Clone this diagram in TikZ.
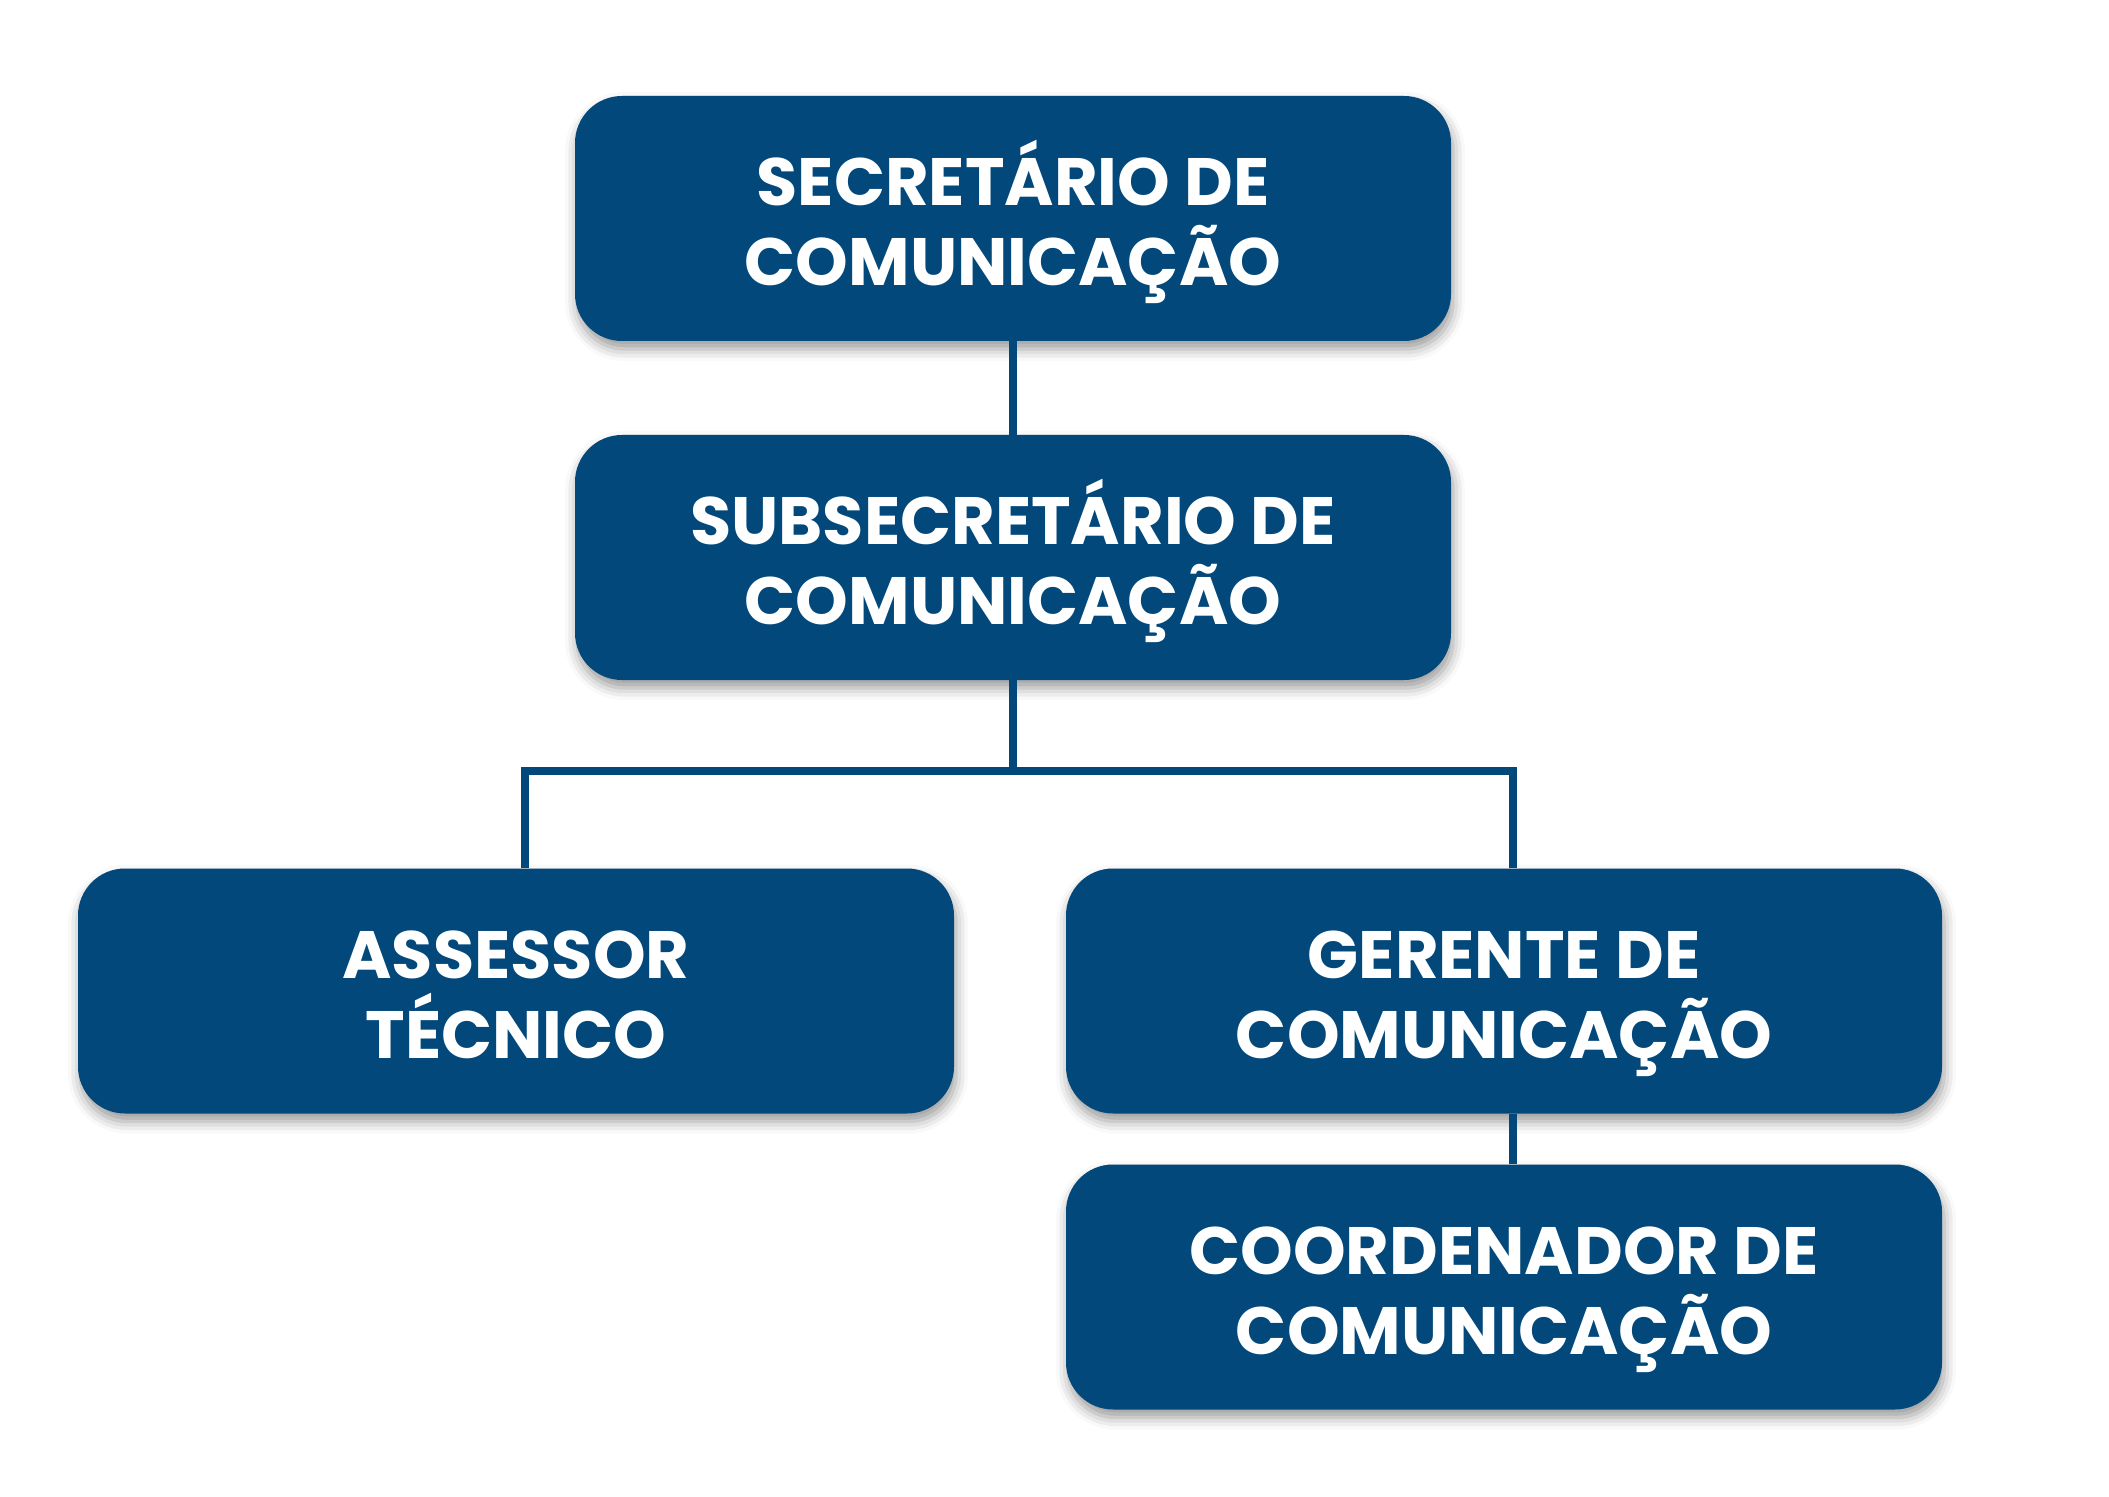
\documentclass[tikz,border=0pt]{standalone}
\usepackage{fontspec}
\setmainfont{Poppins}
\usetikzlibrary{shadows.blur}
\definecolor{boxblue}{RGB}{3,72,122}
\begin{document}
\begin{tikzpicture}[x=0.5pt,y=-0.5pt,
  orgbox/.style={rectangle, rounded corners=23.5pt, fill=boxblue, draw=none,
    minimum width=438pt, minimum height=122.5pt, inner sep=0pt,
    text=white, align=center, font=\bfseries\fontsize{33.5}{40}\selectfont,
    text height=67pt, text depth=0pt,
    blur shadow={shadow xshift=1pt, shadow yshift=-4pt, shadow blur radius=6pt, shadow opacity=40}},
  link/.style={draw=boxblue, line width=4pt}]
\useasboundingbox (0,0) rectangle (2109,1497);
\node[orgbox] (b1) at (1013,218.5) {SECRETÁRIO DE\\COMUNICAÇÃO};
\node[orgbox] (b2) at (1013,557.5) {SUBSECRETÁRIO DE\\COMUNICAÇÃO};
\node[orgbox] (b3) at (516,991) {ASSESSOR\\TÉCNICO};
\node[orgbox] (b4) at (1504,991) {GERENTE DE\\COMUNICAÇÃO};
\node[orgbox] (b5) at (1504,1287) {COORDENADOR DE\\COMUNICAÇÃO};
\coordinate (j) at (1013,771);
\coordinate (jl) at (525,771);
\coordinate (jr) at (1513,771);
\draw[link] (b1) -- (b2);
\draw[link] (b2) -- (j);
\draw[link] ([xshift=-2pt]jl) -- ([xshift=2pt]jr);
\draw[link] (jl) -- (jl |- b3.north);
\draw[link] (jr) -- (jr |- b4.north);
\draw[link] (jr |- b4.south) -- (jr |- b5.north);
\end{tikzpicture}
\end{document}
